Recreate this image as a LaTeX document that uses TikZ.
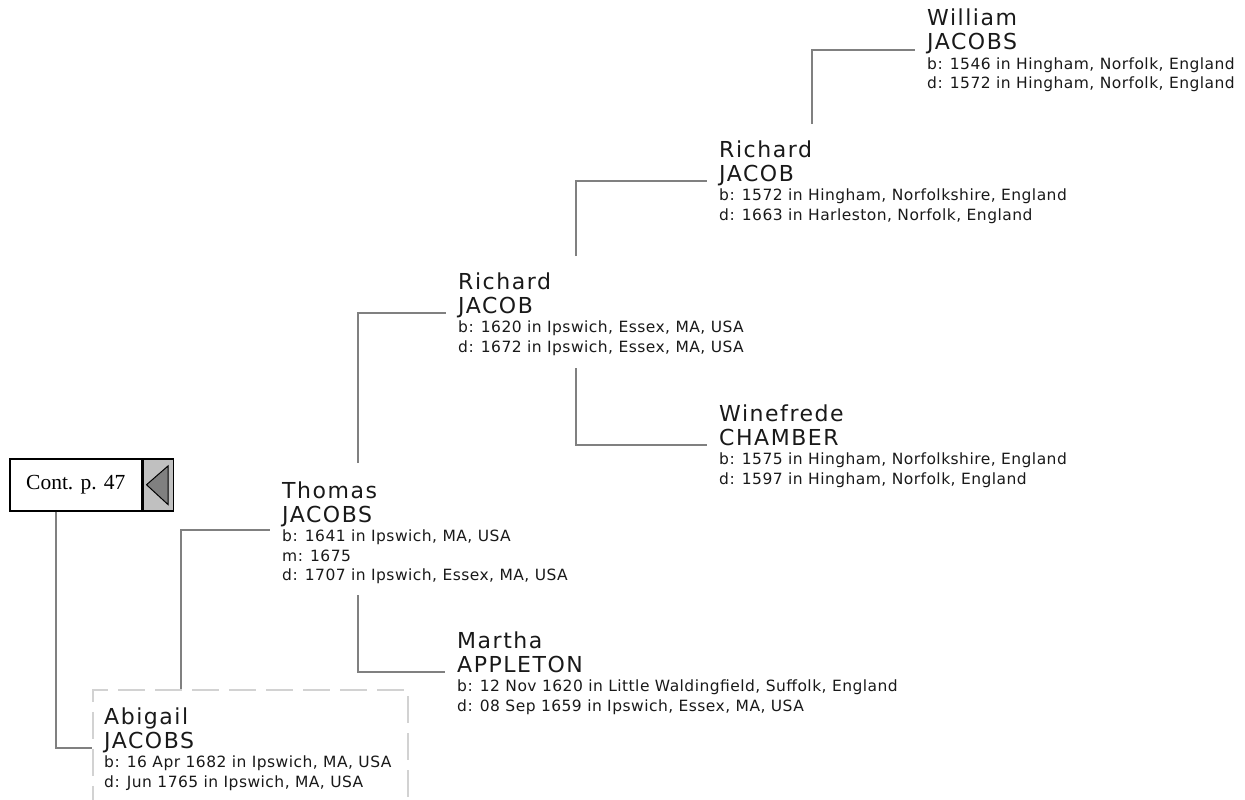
\documentclass[tikz,border=0pt]{standalone}
\usepackage{fontspec}
\setmainfont{DejaVu Sans}
\newfontfamily\namefont[LetterSpace=7]{DejaVu Sans}
\newfontfamily\factfont[LetterSpace=3]{DejaVu Sans}
\newfontfamily\contfont{Liberation Serif}
\usetikzlibrary{positioning}

\definecolor{linkgray}{RGB}{128,128,128}
\definecolor{boxgray}{RGB}{210,210,210}
\definecolor{tabgray}{RGB}{192,192,192}
\definecolor{tipgray}{RGB}{128,128,128}
\definecolor{inkgray}{RGB}{25,25,25}

\tikzset{
  link/.style={draw=linkgray, line width=2pt},
  surname/.style={anchor=base west, inner xsep=12pt, inner ysep=0pt, text=inkgray,
    font=\namefont\fontsize{22}{24}\selectfont},
  given/.style={surname},
  facts/.style={anchor=base west, inner xsep=12pt, inner ysep=0pt, text=inkgray,
    font=\factfont\fontsize{15.5}{19.5}\selectfont},
  contbox/.style={draw, line width=1.5pt, anchor=north west, minimum width=132pt,
    minimum height=52pt, inner sep=0pt, font=\contfont\fontsize{21.5}{24}\selectfont},
  conttab/.style={draw, line width=1.5pt, fill=tabgray, minimum width=30pt,
    minimum height=52pt, inner sep=0pt},
  focusbox/.style={draw=boxgray, line width=1.5pt, dash pattern=on 27pt off 10pt,
    anchor=north west, minimum width=315pt, minimum height=125pt, inner sep=0pt}
}

% one person: name, surname, facts below
\newcommand{\ancestor}[6]{%
  \node[surname] (#1) at (#2,#3) {#5};
  \node[given] (#1-g) at ([yshift=24pt]#1.base west) {#4};
  \node[facts] (#1-f) at ([yshift=-19.5pt]#1.base west) {\begin{tabular}[t]{@{}l@{}}#6\end{tabular}};
}

\begin{document}
\begin{tikzpicture}[x=1pt,y=-1pt]
\useasboundingbox (0,0) rectangle (1245,800);
\clip (0,0) rectangle (1245,800);

% the continuation box
\node[contbox] (cont) at (9,458) {Cont. p. 47};
\node[conttab, right=0pt of cont] (tab) {};
\draw[fill=tipgray, line width=1pt] ([xshift=4pt]tab.west)
  -- ([xshift=-6pt,yshift=-8pt]tab.north east)
  -- ([xshift=-6pt,yshift=7pt]tab.south east) -- cycle;

% the box round the main person
\node[focusbox] (focus) at (92,689) {};

% the people
\ancestor{william}{915}{50}{William}{JACOBS}{b: 1546 in Hingham, Norfolk, England\\ d: 1572 in Hingham, Norfolk, England}
\ancestor{richA}{707}{181}{Richard}{JACOB}{b: 1572 in Hingham, Norfolkshire, England\\ d: 1663 in Harleston, Norfolk, England}
\ancestor{richB}{446}{313}{Richard}{JACOB}{b: 1620 in Ipswich, Essex, MA, USA\\ d: 1672 in Ipswich, Essex, MA, USA}
\ancestor{winefrede}{707}{445}{Winefrede}{CHAMBER}{b: 1575 in Hingham, Norfolkshire, England\\ d: 1597 in Hingham, Norfolk, England}
\ancestor{thomas}{270}{522}{Thomas}{JACOBS}{b: 1641 in Ipswich, MA, USA\\ m: 1675\\ d: 1707 in Ipswich, Essex, MA, USA}
\ancestor{martha}{445}{672}{Martha}{APPLETON}{b: 12 Nov 1620 in Little Waldingfield, Suffolk, England\\ d: 08 Sep 1659 in Ipswich, Essex, MA, USA}
\ancestor{abigail}{92}{748}{Abigail}{JACOBS}{b: 16 Apr 1682 in Ipswich, MA, USA\\ d: Jun 1765 in Ipswich, MA, USA}

% stems above and below each box
\coordinate (abigail-up) at (181,689);
\coordinate (thomas-up) at (358,463);
\coordinate (thomas-dn) at (358,595);
\coordinate (richB-up) at (576,256);
\coordinate (richB-dn) at (576,368);
\coordinate (richA-up) at (812,124);

% the lines
\draw[link] ([xshift=-19.5pt]cont.south) |- (abigail.base west);
\draw[link] (abigail-up) |- ([yshift=-8pt]thomas.base west);
\draw[link] (thomas-up) |- (richB.base west);
\draw[link] (thomas-dn) |- (martha.base west);
\draw[link] (richB-up) |- (richA.base west);
\draw[link] (richB-dn) |- (winefrede.base west);
\draw[link] (richA-up) |- (william.base west);
\end{tikzpicture}
\end{document}
